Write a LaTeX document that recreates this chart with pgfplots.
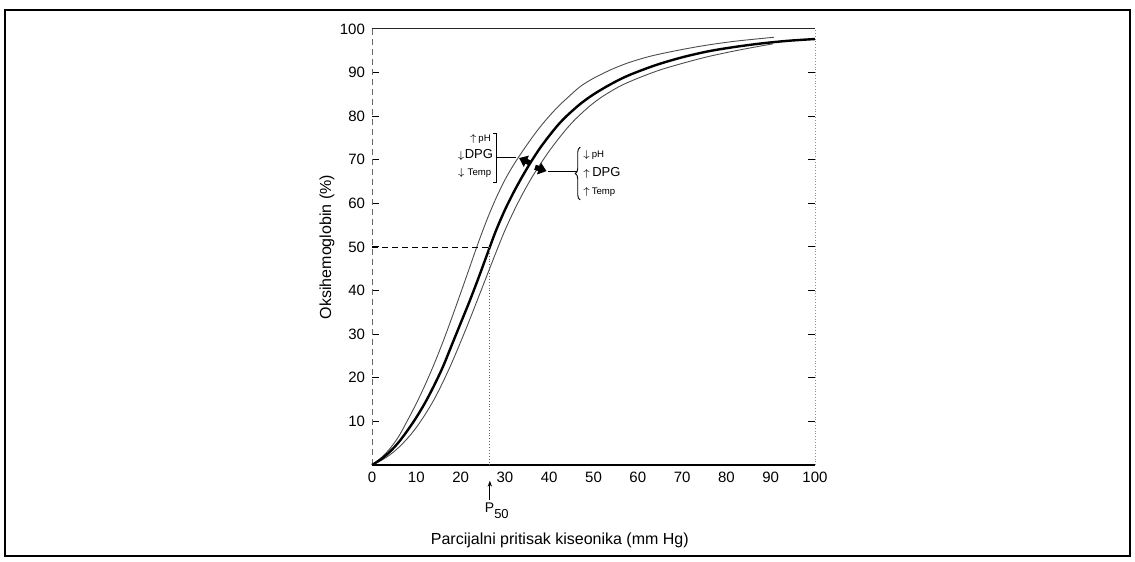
\documentclass[border=0pt]{standalone}
\usepackage{fontspec}
\setmainfont{Liberation Sans}
\usepackage{pgfplots}
\pgfplotsset{compat=1.18}
\usepackage{pgfplotstable}
\usetikzlibrary{arrows.meta,decorations.pathreplacing}

% normal curve (P50 = 26.6 mm Hg)
\pgfplotstableread{
x y
0 0
2 1.3
4 3.0
6 5.2
8 7.9
10 10.9
12 14.3
14 18.2
16 22.5
18 27.5
20 32.5
22 37.5
24 42.8
26.6 50.0
28 53.8
30 58.5
32 62.6
34 66.3
36 69.7
38 72.8
40 75.5
42 78.0
44 80.1
47 82.8
50 85.0
54 87.4
58 89.4
64 91.7
70 93.5
76 94.9
82 95.9
88 96.7
94 97.3
100 97.7
}\normalcurve

% shifted to the left
\pgfplotstableread{
x y
0 0
2 1.6
4 3.7
6 6.5
8 10.2
10 14.1
12 18.4
14 23.1
16 28.2
18 33.7
20 39.4
22 45.2
24 51.0
26 56.4
28 61.2
30 65.4
32 68.9
34 72.0
36 74.9
38 77.6
40 80.0
42 82.2
44 84.1
47 86.8
50 88.7
54 90.7
58 92.3
63 93.8
69 95.1
75 96.2
82 97.2
90.7 98.1
}\leftcurve

% shifted to the right
\pgfplotstableread{
x y
0 0
2 1.0
4 2.3
6 4.0
8 6.1
10 8.6
12 11.6
14 15.0
16 19.0
18 23.4
20 28.2
22 33.2
24 38.4
26 43.6
28 48.8
30 53.8
32 58.2
34 62.2
36 65.8
38 69.0
40 72.0
42 74.7
44 77.2
46 79.4
49 82.2
52 84.5
56 86.9
60 88.7
65 90.6
70 92.1
76 93.7
83 95.2
90.5 96.6
}\rightcurve

\newcommand{\dpgsize}{\fontsize{6.5}{7}\selectfont}
\newcommand{\smlsize}{\fontsize{4.8}{5.5}\selectfont}

\begin{document}
\begin{tikzpicture}
\useasboundingbox (0,0) rectangle (567.5pt,281pt);
\draw[line width=1pt] (2.5pt,3pt) rectangle (565pt,276pt);
\begin{axis}[
    at={(186pt,48.5pt)}, anchor=south west,
    scale only axis, width=221.5pt, height=218pt,
    xmin=0, xmax=100, ymin=0, ymax=100,
    axis line style={draw=none},
    xtick={0,10,...,100}, ytick={10,20,...,100},
    tick align=inside,
    ytick style={line width=0.5pt, black},
    xtick style={draw=none},
    major tick length=3.5pt,
    tick label style={font=\fontsize{7.5}{8}\selectfont},
    /pgf/number format/assume math mode=true,
    xlabel={Parcijalni pritisak kiseonika (mm Hg)},
    ylabel={Oksihemoglobin (\%)},
    every axis x label/.style={at={(rel axis cs:0.424,0)}, anchor=center, yshift=-37.5pt},
    every axis y label/.style={at={(rel axis cs:0,0.5)}, anchor=center, xshift=-22.5pt, rotate=90},
    label style={font=\fontsize{8}{9.6}\selectfont},
    clip=false,
]
% frame of the plot
\draw[line width=0.9pt] (rel axis cs:0,0) -- (rel axis cs:1,0);
\draw[line width=0.5pt, black!85] (rel axis cs:0,1) -- (rel axis cs:1,1);
\draw[line width=0.4pt, black!60, densely dashed] (rel axis cs:0,0) -- (rel axis cs:0,1);
\draw[line width=0.4pt, black!45, densely dotted] (rel axis cs:1,0) -- (rel axis cs:1,1);

\addplot[black!70, line width=0.45pt, smooth] table {\leftcurve};
\addplot[black!70, line width=0.45pt, smooth] table {\rightcurve};
\addplot[black, line width=1.2pt, smooth] table {\normalcurve};

% P50 guides
\draw[densely dashed, line width=0.45pt] (axis cs:0,50) -- (axis cs:26.6,50);
\draw[densely dotted, line width=0.45pt, black!60] (axis cs:26.6,50) -- (axis cs:26.6,0);
\draw[-{Stealth[length=3pt,width=2.2pt]}, line width=0.45pt] (axis cs:26.6,-8) -- (axis cs:26.6,-3.6);
\node[font=\fontsize{7}{8}\selectfont, inner sep=0pt, anchor=north west] at (axis cs:25.4,-8.6) {P\raisebox{-0.75ex}{\fontsize{6.5}{7}\selectfont 50}};

% left shift group
\node[anchor=east, inner sep=0pt] at (axis cs:26.9,74.8) {\smlsize$\uparrow$\,pH};
\node[anchor=east, inner sep=0pt] at (axis cs:27.4,71.2) {\smlsize$\downarrow$\dpgsize DPG};
\node[anchor=east, inner sep=0pt] at (axis cs:27.0,67.0) {\smlsize$\downarrow$ Temp};
\draw[line width=0.45pt] (axis cs:27.3,76.1) -- (axis cs:28.2,76.1) -- (axis cs:28.2,64.9) -- (axis cs:27.3,64.9);
\draw[line width=0.45pt] (axis cs:28.2,70.6) -- (axis cs:32.4,70.6);
\draw[-{Triangle[length=4pt,width=6pt]}, line width=2.6pt] (axis cs:35.6,69.3) -- (axis cs:33.2,70.4);

% right shift group
\draw[-{Triangle[length=4pt,width=6pt]}, line width=2.6pt] (axis cs:36.8,68.3) -- (axis cs:39.4,67.4);
\draw[line width=0.45pt] (axis cs:39.8,67.4) -- (axis cs:46.3,67.4);
\draw[line width=0.45pt, decorate, decoration={brace, amplitude=2.5pt}] (axis cs:47.0,60.8) -- (axis cs:47.0,72.9);
\node[anchor=west, inner sep=0pt] at (axis cs:47.5,71.1) {\smlsize$\downarrow$\,pH};
\node[anchor=west, inner sep=0pt] at (axis cs:47.5,67.0) {\smlsize$\uparrow$\dpgsize\,DPG};
\node[anchor=west, inner sep=0pt] at (axis cs:47.5,62.6) {\smlsize$\uparrow$\,Temp};
\end{axis}
\end{tikzpicture}
\end{document}
